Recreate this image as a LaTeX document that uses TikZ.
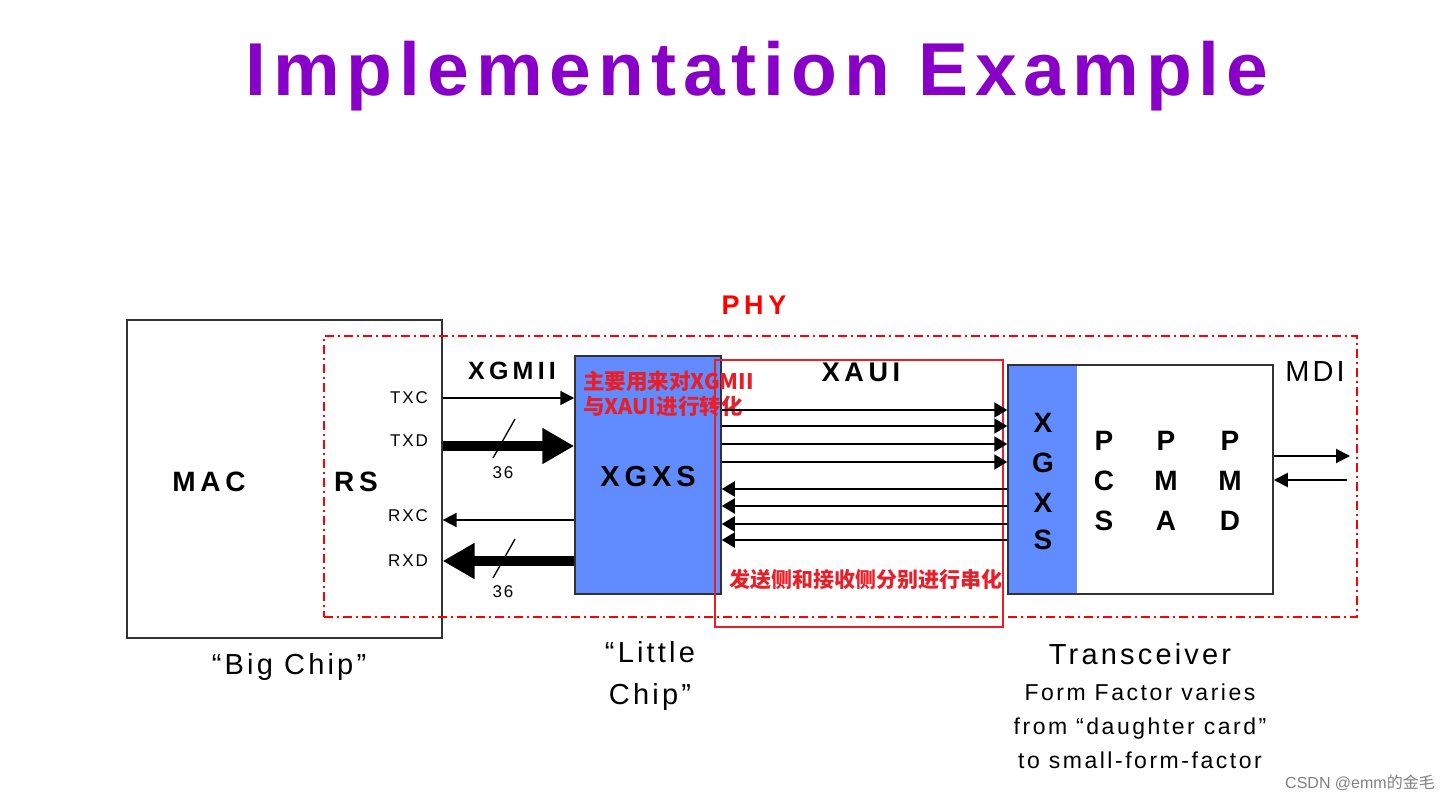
\documentclass[tikz,border=0pt]{standalone}
\usepackage{fontspec}
\setmainfont{Liberation Sans}
\newfontfamily\titlefont{Liberation Sans}[LetterSpace=9.3]
\newfontfamily\lsp{Liberation Sans}[LetterSpace=11]
\newfontfamily\lspb{Liberation Sans}[LetterSpace=17]
\newfontfamily\cjk{Noto Sans CJK SC}
\usetikzlibrary{arrows.meta}
\definecolor{titlepurple}{RGB}{136,0,200}
\definecolor{chipblue}{RGB}{96,140,255}
\definecolor{boxgray}{RGB}{50,50,50}
\definecolor{notered}{RGB}{232,30,40}
\tikzset{
  box/.style={draw=boxgray, line width=1.5pt, inner sep=0pt},
  thinarrow/.style={line width=2pt, -{Triangle[length=14pt,width=14pt]}},
  lanearrow/.style={line width=2pt, -{Triangle[length=13pt,width=15pt]}},
  fatarrow/.style={line width=10pt, -{Triangle[length=32pt,width=34pt]}},
  lbl/.style={inner sep=0pt, font=\lsp\fontsize{17}{19}\selectfont},
  blk/.style={inner sep=0pt, font=\lspb\bfseries\fontsize{28}{30}\selectfont},
  captext/.style={inner sep=0pt, font=\lsp\fontsize{29}{32}\selectfont, align=center},
  note/.style={inner sep=0pt, text=notered, font=\cjk\bfseries\fontsize{21.5}{25}\selectfont, align=left},
}
\begin{document}
\begin{tikzpicture}[x=1pt,y=-1pt]
\useasboundingbox (0,0) rectangle (1455,802);
% title
\node (title) at (757,76) {\titlefont\bfseries\fontsize{75}{80}\selectfont\color{titlepurple}Implementation Example};
% boxes
\node (bigchip) [draw=boxgray, line width=1.3pt, minimum width=315pt, minimum height=318pt] at (284.5,479) {};
\node (phy) [draw=red, line width=2pt, dash pattern=on 9pt off 4pt on 2pt off 4pt, minimum width=1033pt, minimum height=281pt] at (840.5,476.5) {};
\node (phylbl) [blk, text=red, font=\lspb\bfseries\fontsize{27}{30}\selectfont] at (754,305) {PHY};
\node (xgxs) [box, fill=chipblue, minimum width=146pt, minimum height=238pt] at (648,475) {};
\node (xgxslbl) [blk, font=\lspb\bfseries\fontsize{29}{30}\selectfont] at (648,477) {XGXS};
\node (strip) [fill=chipblue, inner sep=0pt, minimum width=69pt, minimum height=229pt] at (1042.5,479.5) {};
\node (trx) [box, minimum width=265pt, minimum height=229pt] at (1140.5,479.5) {};
\node (red) [draw=notered, line width=1.5pt, minimum width=288pt, minimum height=267pt] at (859,493.5) {};
% labels
\node (mac) [blk] at (209,482) {MAC};
\node (rs) [blk] at (356,482) {RS};
\node (txc) [lbl] at (409,398) {TXC};
\node (txd) [lbl] at (409,441) {TXD};
\node (rxc) [lbl] at (408,516) {RXC};
\node (rxd) [lbl] at (408,561) {RXD};
\node (xgmii) [blk, font=\lspb\bfseries\fontsize{25}{28}\selectfont] at (512,371) {XGMII};
\node (xaui) [blk, font=\lspb\bfseries\fontsize{27}{30}\selectfont] at (861,372) {XAUI};
\node (mdi) [inner sep=0pt, font=\lsp\fontsize{29}{32}\selectfont] at (1315,372) {MDI};
\node (n1) [note, anchor=west] at (583,381) {主要用来对XGMII};
\node (n2) [note, anchor=west] at (583,406) {与XAUI进行转化};
\node (n3) [note, font=\cjk\bfseries\fontsize{21}{25}\selectfont] at (866,580) {发送侧和接收侧分别进行串化};
% vertical letters
\node (sx1) [blk] at (1043,423) {X};
\node (sg) [blk] at (1043,463) {G};
\node (sx2) [blk] at (1043,503) {X};
\node (ss) [blk] at (1043,540) {S};
\node (pcs) [blk, align=center, font=\bfseries\fontsize{28}{40}\selectfont] at (1104,481) {P\\C\\S};
\node (pma) [blk, align=center, font=\bfseries\fontsize{28}{40}\selectfont] at (1166,481) {P\\M\\A};
\node (pmd) [blk, align=center, font=\bfseries\fontsize{28}{40}\selectfont] at (1230,481) {P\\M\\D};
% coordinates for rows
\coordinate (ytxc) at (0,398);
\coordinate (ytxd) at (0,446);
\coordinate (yrxc) at (0,520);
\coordinate (yrxd) at (0,561);
% XGMII arrows
\draw[thinarrow] (bigchip.east |- ytxc) -- (xgxs.west |- ytxc);
\draw[fatarrow] (bigchip.east |- ytxd) -- (xgxs.west |- ytxd);
\draw[thinarrow] (xgxs.west |- yrxc) -- (bigchip.east |- yrxc);
\draw[fatarrow] (xgxs.west |- yrxd) -- (bigchip.east |- yrxd);
\coordinate (s1a) at (493,458); \coordinate (s1b) at (515,419);
\coordinate (s2a) at (493,578); \coordinate (s2b) at (515,539);
\draw[line width=1.3pt] (s1a) -- (s1b);
\draw[line width=1.3pt] (s2a) -- (s2b);
\node (w1) [lbl] at (503,473) {36};
\node (w2) [lbl] at (503,592) {36};
% XAUI lanes
\foreach \y in {410,426,444,462} {
  \draw[lanearrow] (xgxs.east |- 0,\y) -- (trx.west |- 0,\y);
}
\foreach \y in {489,506,524,540} {
  \draw[lanearrow] (trx.west |- 0,\y) -- (xgxs.east |- 0,\y);
}
% MDI arrows
\coordinate (mdiout) at (1350,456);
\coordinate (mdiin) at (1347,480);
\draw[thinarrow] (trx.east |- mdiout) -- (mdiout);
\draw[thinarrow] (mdiin) -- (trx.east |- mdiin);
% captions
\node (bigcap) [captext] at (289,667) {“Big Chip”};
\node (littlecap) [captext, font=\lsp\fontsize{29}{42}\selectfont] at (650,676) {“Little\\Chip”};
\node (trxcap) [captext] at (1140,654) {Transceiver};
\node (trxsub) [inner sep=0pt, align=center, font=\lsp\fontsize{23}{34}\selectfont] at (1140,726) {Form Factor varies\\from “daughter card”\\to small-form-factor};
\node (wm) [inner sep=0pt, text=gray, font=\fontsize{16}{18}\selectfont] at (1360,783) {CSDN @emm{\cjk 的金毛}};
\end{tikzpicture}
\end{document}
